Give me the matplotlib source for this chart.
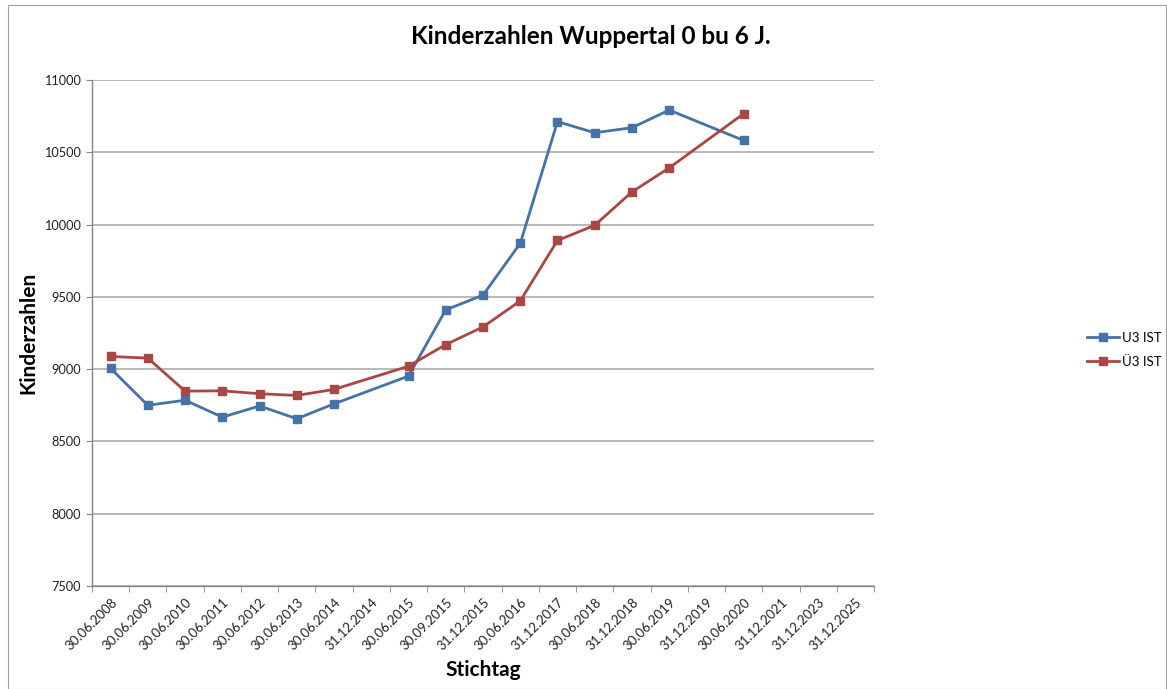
import numpy as np
import matplotlib
matplotlib.use("Agg")
import matplotlib.pyplot as plt
from matplotlib.patches import Rectangle

categories = ["30.06.2008", "30.06.2009", "30.06.2010", "30.06.2011", "30.06.2012",
              "30.06.2013", "30.06.2014", "31.12.2014", "30.06.2015", "30.09.2015",
              "31.12.2015", "30.06.2016", "31.12.2017", "30.06.2018", "31.12.2018",
              "30.06.2019", "31.12.2019", "30.06.2020", "31.12.2021", "31.12.2023",
              "31.12.2025"]
u3_ist = [9005, 8750, 8785, 8668, 8745, 8657, 8760, None, 8952, 9410, 9512, 9870,
          10712, 10635, 10670, 10792, None, 10582, None, None, None]
ue3_ist = [9088, 9076, 8848, 8850, 8830, 8818, 8860, None, 9020, 9170, 9292, 9472,
           9890, 9995, 10226, 10392, None, 10767, None, None, None]
yticks = [7500, 8000, 8500, 9000, 9500, 10000, 10500, 11000]

plt.rcParams['font.family'] = ['Lato', 'DejaVu Sans']

W, H = 1167, 689
fig = plt.figure(figsize=(W / 100, H / 100), dpi=100)
ax = fig.add_axes([92 / W, 1 - 586 / H, (874 - 92) / W, (586 - 80) / H])

x = np.arange(len(categories))

def plot_series(vals, color, label):
    xs = [xi for xi, v in zip(x, vals) if v is not None]
    ys = [v for v in vals if v is not None]
    ax.plot(xs, ys, color=color, lw=2.0, marker='s', markersize=5.5,
            markeredgecolor=color, label=label, zorder=3)

plot_series(u3_ist, '#4572A7', 'U3 IST')
plot_series(ue3_ist, '#AA4643', 'Ü3 IST')

ax.set_xlim(-0.5, len(categories) - 0.5)
ax.set_ylim(7500, 11000)
ax.set_yticks(yticks)
ax.set_yticklabels([str(v) for v in yticks], fontsize=9.2, color='#222222')
ax.yaxis.grid(True, color='#A6A6A6', lw=1.1)
ax.set_axisbelow(True)

ax.set_xticks(x)
ax.set_xticklabels(categories, rotation=45, ha='right', rotation_mode='anchor',
                   fontsize=9.5, color='#222222')
ax.tick_params(axis='x', length=0, pad=7)
ax.set_xticks(np.arange(-0.5, len(categories), 1), minor=True)
ax.tick_params(axis='x', which='minor', length=4, color='#868686', direction='out')
ax.tick_params(axis='y', length=4, color='#868686', direction='out', pad=4)

for s in ['top', 'right']:
    ax.spines[s].set_visible(False)
for s in ['left', 'bottom']:
    ax.spines[s].set_color('#868686')
    ax.spines[s].set_linewidth(1.0)

fig.text(591 / W, 1 - 37 / H, 'Kinderzahlen Wuppertal 0 bu 6 J.', ha='center', va='center',
         fontsize=17.5, fontweight='bold')
fig.text(28 / W, 1 - 333 / H, 'Kinderzahlen', ha='center', va='center', rotation=90,
         fontsize=15, fontweight='bold')
fig.text(483 / W, 1 - 670 / H, 'Stichtag', ha='center', va='center',
         fontsize=15, fontweight='bold')

leg = fig.legend(loc='center left', bbox_to_anchor=(1075 / W, 1 - 350 / H), frameon=False,
                 fontsize=9.5, handlelength=2.4, labelspacing=0.9, handletextpad=0.3)

fig.patches.append(Rectangle((8 / W, 0), 1 - 8 / W - 1 / W, 1 - 5 / H, transform=fig.transFigure,
                             fill=False, edgecolor='#A0A0A0', lw=0.8))

fig.savefig('out.png', dpi=100)
